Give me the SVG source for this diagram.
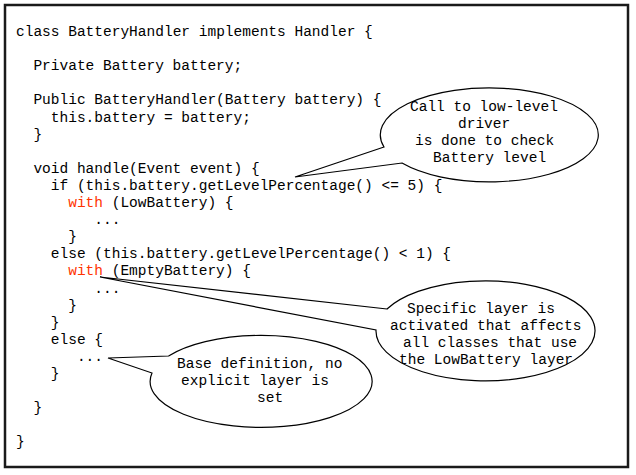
<svg xmlns="http://www.w3.org/2000/svg" width="636" height="475" viewBox="0 0 636 475">
<style>
.c{font-family:"Liberation Mono","Courier New",monospace;font-size:14.5px;fill:#000}
.kw{fill:#ff3300}
.bubble{fill:#fff;stroke:#000;stroke-width:1.2;stroke-linejoin:miter}
</style>
<rect x="0" y="0" width="636" height="475" fill="#fff"/>
<rect x="5" y="5" width="623" height="462" fill="#fff" stroke="#1a1a1a" stroke-width="2.5"/>
<g id="code" class="c">
<text x="16" y="36">class BatteryHandler implements Handler {</text>
<text x="33.4" y="70.2">Private Battery battery;</text>
<text x="33.4" y="104.4">Public BatteryHandler(Battery battery) {</text>
<text x="50.8" y="121.5">this.battery = battery;</text>
<text x="33.4" y="138.6">}</text>
<text x="33.4" y="172.8">void handle(Event event) {</text>
<text x="50.8" y="189.9">if (this.battery.getLevelPercentage() &lt;= 5) {</text>
<text x="68.2" y="207" xml:space="preserve"><tspan class="kw">with</tspan> (LowBattery) {</text>
<text x="94.3" y="224.1">...</text>
<text x="68.2" y="241.2">}</text>
<text x="50.8" y="258.3">else (this.battery.getLevelPercentage() &lt; 1) {</text>
<text x="68.2" y="275.4" xml:space="preserve"><tspan class="kw">with</tspan> (EmptyBattery) {</text>
<text x="94.3" y="292.5">...</text>
<text x="68.2" y="309.6">}</text>
<text x="50.8" y="326.7">}</text>
<text x="50.8" y="343.8">else {</text>
<text x="76.9" y="360.9">...</text>
<text x="50.8" y="378">}</text>
<text x="33.4" y="412.2">}</text>
<text x="16" y="446.4">}</text>
</g>
<g id="callout-driver">
<path class="bubble" d="M384,147 L295,177 L402,163 A109,47 0 1 0 384,147 Z"/>
<g class="c">
<text x="410" y="111">Call to low-level</text>
<text x="458" y="128">driver</text>
<text x="415" y="145">is done to check</text>
<text x="433" y="162">Battery level</text>
</g>
</g>
<g id="callout-layer">
<path class="bubble" d="M387,309 L100,277 L376,330 A109.5,50 0 1 0 387,309 Z"/>
<g class="c">
<text x="407" y="313">Specific layer is</text>
<text x="390" y="330">activated that affects</text>
<text x="403" y="347">all classes that use</text>
<text x="399" y="364">the LowBattery layer</text>
</g>
</g>
<g id="callout-base">
<path class="bubble" d="M168.6,356 L108,358 L152,373 A111,46 0 1 0 168.6,356 Z"/>
<g class="c">
<text x="177" y="368">Base definition, no</text>
<text x="181" y="385">explicit layer is</text>
<text x="257" y="402">set</text>
</g>
</g>
<g id="connectors"></g>
</svg>
